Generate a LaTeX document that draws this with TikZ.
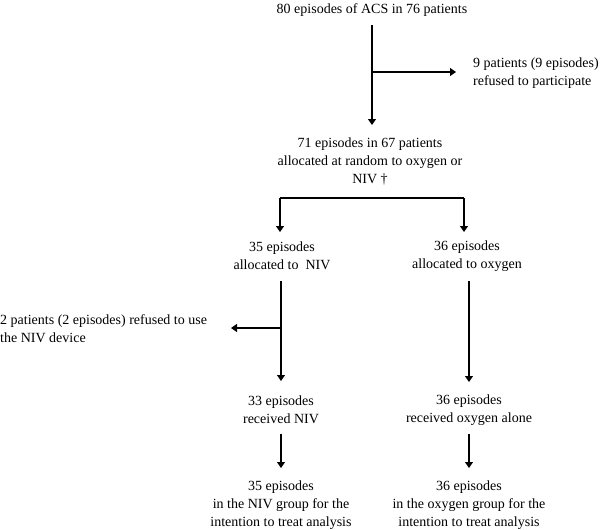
\documentclass[tikz,border=0pt]{standalone}
\usepackage{fontspec}
\setmainfont{Liberation Serif}
\usetikzlibrary{arrows.meta}
\begin{document}
\begin{tikzpicture}[x=1pt,y=-1pt,
  every node/.style={font=\fontsize{14}{18}\selectfont, inner sep=0pt, align=center},
  arr/.style={-{Triangle[width=8pt,length=6pt]}, line width=1.1pt},
  ln/.style={line width=1.1pt}]
\useasboundingbox (0,0) rectangle (600,530);
\node (a) at (372,10) {80 episodes of ACS in 76 patients};
\node (r1) [anchor=west, align=left] at (473,73) {9 patients (9 episodes)\\refused to participate};
\node (b) at (370,161) {71 episodes in 67 patients\\allocated at random to oxygen or\\NIV \dag};
\node (c1) at (282,256) {35 episodes\\allocated to\ \ NIV};
\node (c2) at (467,256) {36 episodes\\allocated to oxygen};
\node (r2) [anchor=west, align=left] at (0,329) {2 patients (2 episodes) refused to use\\the NIV device};
\node (d1) at (281,410) {33 episodes\\received NIV};
\node (d2) at (469,410) {36 episodes\\received oxygen alone};
\node (e1) at (281,505) {35 episodes\\in the NIV group for the\\intention to treat analysis};
\node (e2) at (469,505) {36 episodes\\in the oxygen group for the\\intention to treat analysis};
% top
\coordinate (a1) at (a.south |- 0,25);
\coordinate (a2) at (a.south |- 0,125);
\coordinate (ab) at (a.south |- 0,72);
\draw[arr] (a1) -- (a2);
\draw[arr, shorten >=17pt] (ab) -- (ab -| r1.west);
% split
\coordinate (bl) at (280,198);
\coordinate (br) at (464,198);
\draw[ln] (b.south |- 0,198) -- (bl);
\draw[ln] (bl) -- (br);
\draw[arr] (bl) -- (280,232);
\draw[arr] (br) -- (464,232);
% middle
\coordinate (l1) at (281,281);
\coordinate (l2) at (281,381);
\coordinate (lb) at (281,328);
\draw[arr] (l1) -- (l2);
\draw[arr] (lb) -- (231,328);
\coordinate (m1) at (469,281);
\coordinate (m2) at (469,382);
\draw[arr] (m1) -- (m2);
% bottom
\draw[arr] (281,434) -- (281,468);
\draw[arr] (469,434) -- (469,468);
\end{tikzpicture}
\end{document}
